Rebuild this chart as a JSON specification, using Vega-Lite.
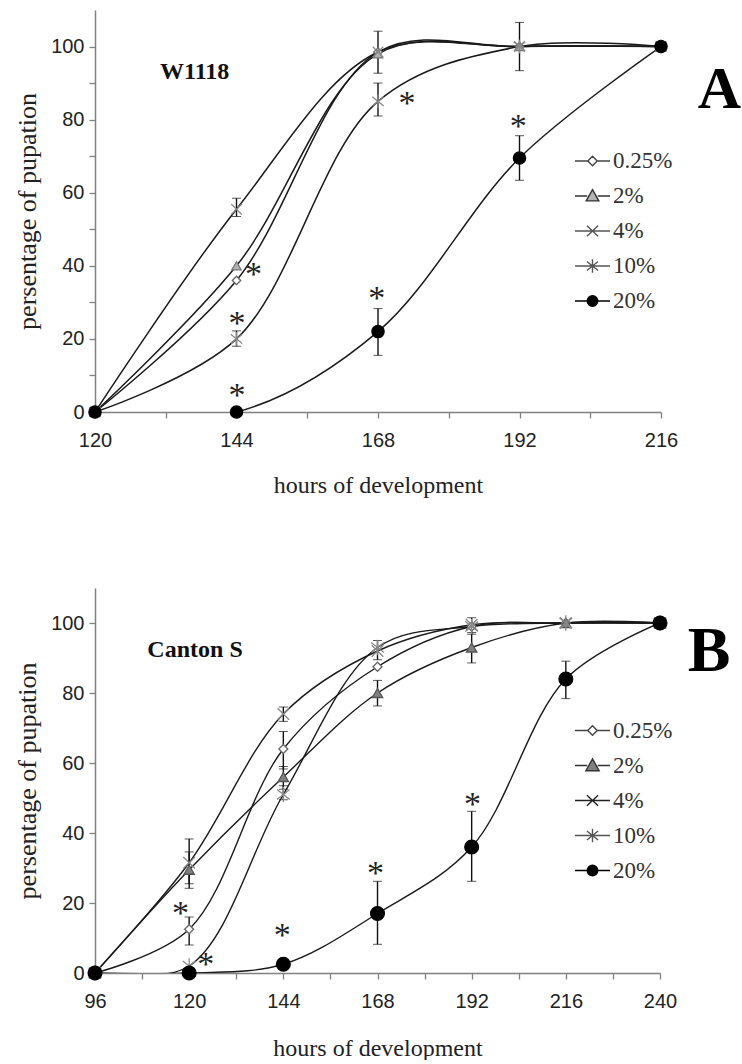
{
  "$schema": "https://vega.github.io/schema/vega-lite/v6.json",
  "padding": {"left": 14, "top": 10, "right": 0, "bottom": 0},
  "background": "white",
  "spacing": 91,
  "config": {
    "view": {"stroke": null},
    "axis": {
      "grid": false,
      "domainColor": "#808080",
      "domainWidth": 1.5,
      "tickColor": "#808080",
      "tickWidth": 1.3,
      "tickSize": 6,
      "labelFont": "Liberation Sans",
      "labelFontSize": 20,
      "labelColor": "#222",
      "labelOverlap": false,
      "labelFlush": false,
      "titleFont": "Liberation Serif",
      "titleFontWeight": "normal",
      "titleColor": "#222"
    },
    "legend": {
      "labelFont": "Liberation Serif",
      "labelFontSize": 23,
      "labelColor": "#333",
      "symbolSize": 1225,
      "symbolStrokeWidth": 1.4,
      "rowPadding": 4,
      "labelOffset": 2,
      "padding": 0
    }
  },
  "datasets": {
    "A": [
      {"conc": "0.25%", "h": 120, "p": 0}, {"conc": "0.25%", "h": 144, "p": 36}, {"conc": "0.25%", "h": 168, "p": 98.5}, {"conc": "0.25%", "h": 192, "p": 100}, {"conc": "0.25%", "h": 216, "p": 100},
      {"conc": "2%", "h": 120, "p": 0}, {"conc": "2%", "h": 144, "p": 40}, {"conc": "2%", "h": 168, "p": 98}, {"conc": "2%", "h": 192, "p": 100}, {"conc": "2%", "h": 216, "p": 100},
      {"conc": "4%", "h": 120, "p": 0}, {"conc": "4%", "h": 144, "p": 55.5}, {"conc": "4%", "h": 168, "p": 98.5}, {"conc": "4%", "h": 192, "p": 100}, {"conc": "4%", "h": 216, "p": 100},
      {"conc": "10%", "h": 120, "p": 0}, {"conc": "10%", "h": 144, "p": 20}, {"conc": "10%", "h": 168, "p": 85}, {"conc": "10%", "h": 192, "p": 100}, {"conc": "10%", "h": 216, "p": 100},
      {"conc": "20%", "h": 120, "p": 0}, {"conc": "20%", "h": 144, "p": 0}, {"conc": "20%", "h": 168, "p": 22}, {"conc": "20%", "h": 192, "p": 69.5}, {"conc": "20%", "h": 216, "p": 100}
    ],
    "B": [
      {"conc": "0.25%", "h": 96, "p": 0}, {"conc": "0.25%", "h": 120, "p": 12.5}, {"conc": "0.25%", "h": 144, "p": 64}, {"conc": "0.25%", "h": 168, "p": 87.5}, {"conc": "0.25%", "h": 192, "p": 99}, {"conc": "0.25%", "h": 216, "p": 100}, {"conc": "0.25%", "h": 240, "p": 100},
      {"conc": "2%", "h": 96, "p": 0}, {"conc": "2%", "h": 120, "p": 29.5}, {"conc": "2%", "h": 144, "p": 56}, {"conc": "2%", "h": 168, "p": 80}, {"conc": "2%", "h": 192, "p": 93}, {"conc": "2%", "h": 216, "p": 100}, {"conc": "2%", "h": 240, "p": 100},
      {"conc": "4%", "h": 96, "p": 0}, {"conc": "4%", "h": 120, "p": 31.5}, {"conc": "4%", "h": 144, "p": 74}, {"conc": "4%", "h": 168, "p": 92}, {"conc": "4%", "h": 192, "p": 99.5}, {"conc": "4%", "h": 216, "p": 100}, {"conc": "4%", "h": 240, "p": 100},
      {"conc": "10%", "h": 96, "p": 0}, {"conc": "10%", "h": 120, "p": 2}, {"conc": "10%", "h": 144, "p": 51}, {"conc": "10%", "h": 168, "p": 93}, {"conc": "10%", "h": 192, "p": 99}, {"conc": "10%", "h": 216, "p": 100}, {"conc": "10%", "h": 240, "p": 100},
      {"conc": "20%", "h": 96, "p": 0}, {"conc": "20%", "h": 120, "p": 0}, {"conc": "20%", "h": 144, "p": 2.5}, {"conc": "20%", "h": 168, "p": 17}, {"conc": "20%", "h": 192, "p": 36}, {"conc": "20%", "h": 216, "p": 84}, {"conc": "20%", "h": 240, "p": 100}
    ],
    "errA": [
      {"h": 144, "lo": 53.5, "hi": 58.5}, {"h": 144, "lo": 18, "hi": 22.2},
      {"h": 168, "lo": 92.7, "hi": 104.2}, {"h": 168, "lo": 81, "hi": 90}, {"h": 168, "lo": 15.5, "hi": 28.3},
      {"h": 192, "lo": 93.4, "hi": 106.6}, {"h": 192, "lo": 63.4, "hi": 75.6}
    ],
    "errB": [
      {"h": 120, "lo": 24.2, "hi": 38.3}, {"h": 120, "lo": 25.5, "hi": 34.6}, {"h": 120, "lo": 8, "hi": 16},
      {"h": 144, "lo": 71.9, "hi": 76}, {"h": 144, "lo": 58.3, "hi": 69}, {"h": 144, "lo": 52.5, "hi": 59}, {"h": 144, "lo": 49.5, "hi": 53.5},
      {"h": 168, "lo": 89.5, "hi": 95}, {"h": 168, "lo": 76.3, "hi": 83.6}, {"h": 168, "lo": 8.2, "hi": 26.2},
      {"h": 192, "lo": 96.8, "hi": 101.5}, {"h": 192, "lo": 88.6, "hi": 97.3}, {"h": 192, "lo": 26.2, "hi": 46.2},
      {"h": 216, "lo": 78.4, "hi": 89.1}
    ],
    "starsA": [
      {"h": 146.9, "p": 39.3}, {"h": 144.1, "p": 25.9}, {"h": 144.1, "p": 6.4},
      {"h": 172.9, "p": 86.1}, {"h": 167.8, "p": 32.8}, {"h": 191.8, "p": 79.8}
    ],
    "starsB": [
      {"h": 117.8, "p": 18.9}, {"h": 124.2, "p": 4.4}, {"h": 143.7, "p": 12.6},
      {"h": 167.5, "p": 30.3}, {"h": 192.2, "p": 50}
    ],
    "strainA": [{"t": "W1118", "h": 136.9, "p": 92.9}],
    "strainB": [{"t": "Canton S", "h": 121.5, "p": 92.3}],
    "letterA": [{"t": "A", "h": 225.9, "p": 83.3}],
    "letterB": [{"t": "B", "h": 252.5, "p": 86.4}]
  },
  "vconcat": [
    {
      "width": 566,
      "height": 402,
      "layer": [
        {
          "data": {"name": "A"},
          "mark": {"type": "line", "interpolate": "catmull-rom", "color": "#1a1a1a", "strokeWidth": 1.5, "clip": true},
          "encoding": {
            "x": {"field": "h", "type": "quantitative", "title": "hours of development",
                  "scale": {"domain": [120, 216], "nice": false, "zero": false},
                  "axis": {"values": [120, 132, 144, 156, 168, 180, 192, 204, 216], "labelExpr": "(datum.value - 120) % 24 == 0 ? datum.label : ''", "labelPadding": 12, "titlePadding": 23, "titleFontSize": 24}},
            "y": {"field": "p", "type": "quantitative", "title": "persentage of pupation",
                  "scale": {"domain": [0, 110], "nice": false},
                  "axis": {"values": [0, 10, 20, 30, 40, 50, 60, 70, 80, 90, 100], "labelExpr": "datum.value % 20 == 0 ? datum.label : ''", "labelPadding": 5, "titlePadding": 10, "titleFontSize": 26}},
            "detail": {"field": "conc", "type": "nominal"}
          }
        },
        {
          "data": {"name": "errA"},
          "mark": {"type": "errorbar", "ticks": {"size": 9, "color": "#111", "strokeWidth": 1.4}, "rule": {"color": "#111", "strokeWidth": 1.4}},
          "encoding": {
            "x": {"field": "h", "type": "quantitative", "title": "hours of development"},
            "y": {"field": "lo", "type": "quantitative", "title": "persentage of pupation"},
            "y2": {"field": "hi"}
          }
        },
        {
          "data": {"name": "A"},
          "mark": {"type": "point", "opacity": 1, "strokeWidth": 1.3},
          "encoding": {
            "x": {"field": "h", "type": "quantitative", "title": "hours of development"},
            "y": {"field": "p", "type": "quantitative", "title": "persentage of pupation"},
            "shape": {"field": "conc", "type": "nominal", "legend": null,
                      "scale": {"domain": ["0.25%", "2%", "4%", "10%", "20%"], "range": ["diamond", "triangle-up", "M-1,-1L1,1M-1,1L1,-1", "M-1,-0.8L1,0.8M-1,0.8L1,-0.8M0,-1.2V1.2", "circle"]}},
            "fill": {"field": "conc", "type": "nominal", "legend": null,
                     "scale": {"domain": ["0.25%", "2%", "4%", "10%", "20%"], "range": ["#ffffff", "#b4b4b4", "transparent", "transparent", "#000000"]}},
            "stroke": {"field": "conc", "type": "nominal", "legend": null,
                       "scale": {"domain": ["0.25%", "2%", "4%", "10%", "20%"], "range": ["#666666", "#777777", "#888888", "#888888", "#000000"]}},
            "size": {"field": "conc", "type": "nominal", "legend": null,
                     "scale": {"domain": ["0.25%", "2%", "4%", "10%", "20%"], "range": [70, 150, 130, 140, 150]}}
          }
        },
        {
          "data": {"name": "starsA"},
          "mark": {"type": "text", "text": "*", "font": "Liberation Serif", "fontSize": 34, "baseline": "alphabetic", "dy": 17, "color": "#222"},
          "encoding": {
            "x": {"field": "h", "type": "quantitative", "title": "hours of development"},
            "y": {"field": "p", "type": "quantitative", "title": "persentage of pupation"}
          }
        },
        {
          "data": {"name": "strainA"},
          "mark": {"type": "text", "font": "Liberation Serif", "fontSize": 24, "fontWeight": "bold", "baseline": "middle", "align": "center", "color": "#111"},
          "encoding": {
            "x": {"field": "h", "type": "quantitative", "title": "hours of development"},
            "y": {"field": "p", "type": "quantitative", "title": "persentage of pupation"},
            "text": {"field": "t"}
          }
        },
        {
          "data": {"name": "letterA"},
          "mark": {"type": "text", "font": "Liberation Serif", "fontSize": 60, "fontWeight": "bold", "baseline": "alphabetic", "align": "center", "color": "#000"},
          "encoding": {
            "x": {"field": "h", "type": "quantitative", "title": "hours of development"},
            "y": {"field": "p", "type": "quantitative", "title": "persentage of pupation"},
            "text": {"field": "t"}
          }
        },
        {
          "data": {"name": "A"},
          "transform": [{"filter": "datum.h < 0"}],
          "mark": {"type": "point", "opacity": 1},
          "encoding": {
            "x": {"field": "h", "type": "quantitative", "title": "hours of development"},
            "y": {"field": "p", "type": "quantitative", "title": "persentage of pupation"},
            "shape": {"field": "conc", "type": "nominal",
                      "scale": {"domain": ["0.25%", "2%", "4%", "10%", "20%"], "range": ["M-1,0H-0.27M0.27,0H1M-0.27,0L0,-0.27L0.27,0L0,0.27Z", "M-1,0H-0.3M0.3,0H1M0,-0.36L0.36,0.28L-0.36,0.28Z", "M-1,0H1M-0.32,-0.3L0.32,0.3M-0.32,0.3L0.32,-0.3", "M-1,0H1M-0.32,-0.26L0.32,0.26M-0.32,0.26L0.32,-0.26M0,-0.38V0.38", "M-1,0H-0.3M0.3,0H1M0.3,0A0.3,0.3,0,1,1,-0.3,0A0.3,0.3,0,1,1,0.3,0Z"]},
                      "legend": {"title": null, "orient": "none", "legendX": 479, "legendY": 132.5, "symbolSize": 1225, "symbolStrokeWidth": 1.4, "symbolOpacity": 1, "labelFont": "Liberation Serif", "labelFontSize": 23, "labelColor": "#333", "rowPadding": 4, "labelOffset": 2, "padding": 0}},
            "fill": {"field": "conc", "type": "nominal",
                     "scale": {"domain": ["0.25%", "2%", "4%", "10%", "20%"], "range": ["#ffffff", "#b4b4b4", "transparent", "transparent", "#000000"]},
                     "legend": {"title": null, "orient": "none", "legendX": 479, "legendY": 132.5, "symbolSize": 1225, "symbolStrokeWidth": 1.4, "symbolOpacity": 1, "labelFont": "Liberation Serif", "labelFontSize": 23, "labelColor": "#333", "rowPadding": 4, "labelOffset": 2, "padding": 0}},
            "stroke": {"field": "conc", "type": "nominal",
                       "scale": {"domain": ["0.25%", "2%", "4%", "10%", "20%"], "range": ["#444444", "#333333", "#555555", "#555555", "#000000"]},
                       "legend": {"title": null, "orient": "none", "legendX": 479, "legendY": 132.5, "symbolSize": 1225, "symbolStrokeWidth": 1.4, "symbolOpacity": 1, "labelFont": "Liberation Serif", "labelFontSize": 23, "labelColor": "#333", "rowPadding": 4, "labelOffset": 2, "padding": 0}}
          }
        }
      ],
      "resolve": {"scale": {"shape": "independent", "fill": "independent", "stroke": "independent", "size": "independent"}}
    },
    {
      "width": 565,
      "height": 385,
      "layer": [
        {
          "data": {"name": "B"},
          "mark": {"type": "line", "interpolate": "catmull-rom", "color": "#1a1a1a", "clip": true},
          "encoding": {
            "x": {"field": "h", "type": "quantitative", "title": "hours of development",
                  "scale": {"domain": [96, 240], "nice": false, "zero": false},
                  "axis": {"values": [96, 108, 120, 132, 144, 156, 168, 180, 192, 204, 216, 228, 240], "labelExpr": "(datum.value - 96) % 24 == 0 ? datum.label : ''", "labelPadding": 12, "titlePadding": 25, "titleFontSize": 24}},
            "y": {"field": "p", "type": "quantitative", "title": "persentage of pupation",
                  "scale": {"domain": [0, 110], "nice": false},
                  "axis": {"values": [0, 10, 20, 30, 40, 50, 60, 70, 80, 90, 100], "labelExpr": "datum.value % 20 == 0 ? datum.label : ''", "labelPadding": 5, "titlePadding": 10, "titleFontSize": 26}},
            "detail": {"field": "conc", "type": "nominal"},
            "strokeWidth": {"field": "conc", "type": "nominal", "legend": null,
                            "scale": {"domain": ["0.25%", "2%", "4%", "10%", "20%"], "range": [1.4, 1.4, 2.6, 1.4, 1.4]}}
          }
        },
        {
          "data": {"name": "errB"},
          "mark": {"type": "errorbar", "ticks": {"size": 9, "color": "#111", "strokeWidth": 1.4}, "rule": {"color": "#111", "strokeWidth": 1.4}},
          "encoding": {
            "x": {"field": "h", "type": "quantitative", "title": "hours of development"},
            "y": {"field": "lo", "type": "quantitative", "title": "persentage of pupation"},
            "y2": {"field": "hi"}
          }
        },
        {
          "data": {"name": "B"},
          "mark": {"type": "point", "opacity": 1, "strokeWidth": 1.3},
          "encoding": {
            "x": {"field": "h", "type": "quantitative", "title": "hours of development"},
            "y": {"field": "p", "type": "quantitative", "title": "persentage of pupation"},
            "shape": {"field": "conc", "type": "nominal", "legend": null,
                      "scale": {"domain": ["0.25%", "2%", "4%", "10%", "20%"], "range": ["diamond", "triangle-up", "M-1,-1L1,1M-1,1L1,-1", "M-1,-0.8L1,0.8M-1,0.8L1,-0.8M0,-1.2V1.2", "circle"]}},
            "fill": {"field": "conc", "type": "nominal", "legend": null,
                     "scale": {"domain": ["0.25%", "2%", "4%", "10%", "20%"], "range": ["#ffffff", "#808080", "transparent", "transparent", "#000000"]}},
            "stroke": {"field": "conc", "type": "nominal", "legend": null,
                       "scale": {"domain": ["0.25%", "2%", "4%", "10%", "20%"], "range": ["#666666", "#555555", "#888888", "#888888", "#000000"]}},
            "size": {"field": "conc", "type": "nominal", "legend": null,
                     "scale": {"domain": ["0.25%", "2%", "4%", "10%", "20%"], "range": [80, 190, 140, 140, 160]}}
          }
        },
        {
          "data": {"name": "starsB"},
          "mark": {"type": "text", "text": "*", "font": "Liberation Serif", "fontSize": 34, "baseline": "alphabetic", "dy": 17, "color": "#222"},
          "encoding": {
            "x": {"field": "h", "type": "quantitative", "title": "hours of development"},
            "y": {"field": "p", "type": "quantitative", "title": "persentage of pupation"}
          }
        },
        {
          "data": {"name": "strainB"},
          "mark": {"type": "text", "font": "Liberation Serif", "fontSize": 24, "fontWeight": "bold", "baseline": "middle", "align": "center", "color": "#111"},
          "encoding": {
            "x": {"field": "h", "type": "quantitative", "title": "hours of development"},
            "y": {"field": "p", "type": "quantitative", "title": "persentage of pupation"},
            "text": {"field": "t"}
          }
        },
        {
          "data": {"name": "letterB"},
          "mark": {"type": "text", "font": "Liberation Serif", "fontSize": 64, "fontWeight": "bold", "baseline": "alphabetic", "align": "center", "color": "#000"},
          "encoding": {
            "x": {"field": "h", "type": "quantitative", "title": "hours of development"},
            "y": {"field": "p", "type": "quantitative", "title": "persentage of pupation"},
            "text": {"field": "t"}
          }
        },
        {
          "data": {"name": "B"},
          "transform": [{"filter": "datum.h < 0"}],
          "mark": {"type": "point", "opacity": 1},
          "encoding": {
            "x": {"field": "h", "type": "quantitative", "title": "hours of development"},
            "y": {"field": "p", "type": "quantitative", "title": "persentage of pupation"},
            "shape": {"field": "conc", "type": "nominal",
                      "scale": {"domain": ["0.25%", "2%", "4%", "10%", "20%"], "range": ["M-1,0H-0.27M0.27,0H1M-0.27,0L0,-0.27L0.27,0L0,0.27Z", "M-1,0H-0.3M0.3,0H1M0,-0.38L0.38,0.3L-0.38,0.3Z", "M-1,0H1M-0.32,-0.3L0.32,0.3M-0.32,0.3L0.32,-0.3", "M-1,0H1M-0.32,-0.26L0.32,0.26M-0.32,0.26L0.32,-0.26M0,-0.38V0.38", "M-1,0H-0.3M0.3,0H1M0.3,0A0.3,0.3,0,1,1,-0.3,0A0.3,0.3,0,1,1,0.3,0Z"]},
                      "legend": {"title": null, "orient": "none", "legendX": 479, "legendY": 124, "symbolSize": 1225, "symbolStrokeWidth": 1.4, "symbolOpacity": 1, "labelFont": "Liberation Serif", "labelFontSize": 23, "labelColor": "#333", "rowPadding": 4, "labelOffset": 2, "padding": 0}},
            "fill": {"field": "conc", "type": "nominal",
                     "scale": {"domain": ["0.25%", "2%", "4%", "10%", "20%"], "range": ["#ffffff", "#808080", "transparent", "transparent", "#000000"]},
                     "legend": {"title": null, "orient": "none", "legendX": 479, "legendY": 124, "symbolSize": 1225, "symbolStrokeWidth": 1.4, "symbolOpacity": 1, "labelFont": "Liberation Serif", "labelFontSize": 23, "labelColor": "#333", "rowPadding": 4, "labelOffset": 2, "padding": 0}},
            "stroke": {"field": "conc", "type": "nominal",
                       "scale": {"domain": ["0.25%", "2%", "4%", "10%", "20%"], "range": ["#444444", "#333333", "#222222", "#555555", "#000000"]},
                       "legend": {"title": null, "orient": "none", "legendX": 479, "legendY": 124, "symbolSize": 1225, "symbolStrokeWidth": 1.4, "symbolOpacity": 1, "labelFont": "Liberation Serif", "labelFontSize": 23, "labelColor": "#333", "rowPadding": 4, "labelOffset": 2, "padding": 0}}
          }
        }
      ],
      "resolve": {"scale": {"shape": "independent", "fill": "independent", "stroke": "independent", "size": "independent", "strokeWidth": "independent"}}
    }
  ],
  "resolve": {"scale": {"x": "independent", "y": "independent", "shape": "independent", "fill": "independent", "stroke": "independent", "size": "independent", "strokeWidth": "independent"}}
}
